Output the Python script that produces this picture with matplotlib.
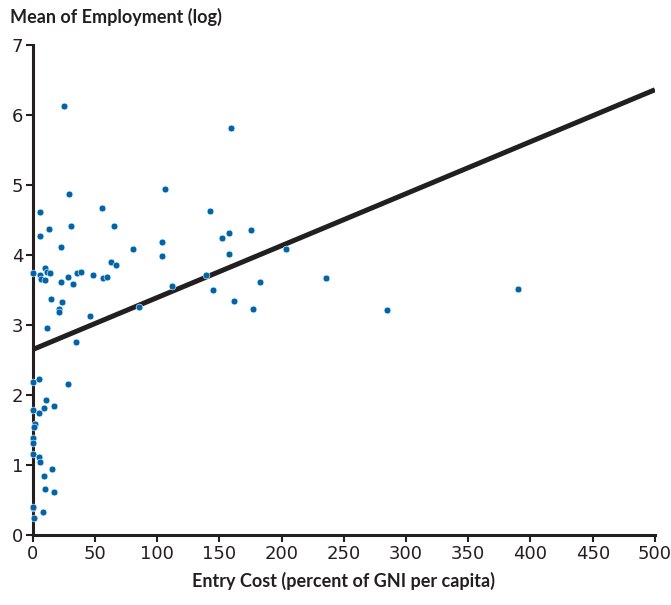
import matplotlib
matplotlib.use("Agg")
import matplotlib.pyplot as plt
import numpy as np

plt.rcParams['font.family'] = ['Lato', 'DejaVu Sans']

# entry cost (percent of GNI per capita) and mean employment (log)
entry_cost = [24.9, 159.4, 28.7, 106.4, 5.4, 55.5, 142.0, 5.4, 12.6, 30.3,
              65.6, 23.0, 80.6, 103.4, 103.7, 152.2, 157.6, 157.3, 175.6, 0.3,
              9.4, 11.5, 13.4, 5.9, 6.7, 9.4, 23.0, 28.4, 31.9, 35.1,
              38.8, 48.5, 56.5, 59.2, 63.0, 66.5, 139.3, 112.0, 145.0, 162.0,
              14.7, 23.6, 21.2, 20.6, 45.8, 85.5, 11.5, 203.1, 182.5, 236.0,
              176.8, 284.8, 389.9, 34.6, 0.3, 4.8, 28.1, 10.5, 0.0, 8.6,
              16.9, 4.6, 1.9, 1.1, 0.3, 0.0, 0.3, 5.1, 5.6, 15.5,
              8.6, 9.6, 16.9, 0.0, 0.3, 8.3, 0.5]
employment = [6.13, 5.81, 4.87, 4.94, 4.62, 4.67, 4.63, 4.27, 4.37, 4.41,
              4.41, 4.12, 4.08, 4.19, 3.99, 4.24, 4.31, 4.02, 4.35, 3.74,
              3.82, 3.76, 3.74, 3.71, 3.65, 3.64, 3.62, 3.68, 3.59, 3.74,
              3.76, 3.72, 3.67, 3.69, 3.90, 3.85, 3.72, 3.55, 3.50, 3.34,
              3.37, 3.33, 3.23, 3.19, 3.13, 3.25, 2.96, 4.09, 3.62, 3.67,
              3.23, 3.21, 3.51, 2.75, 2.19, 2.23, 2.16, 1.93, 1.79, 1.82,
              1.84, 1.74, 1.59, 1.54, 1.39, 1.32, 1.16, 1.12, 1.04, 0.94,
              0.84, 0.65, 0.62, 0.38, 0.40, 0.33, 0.24]

fit_x = [0, 500]
fit_y = [2.65, 6.36]

x_ticks = list(range(0, 501, 50))
y_ticks = list(range(0, 8))

fig = plt.figure(figsize=(6.71, 6.05), dpi=100)
ax = fig.add_axes([0.049, 0.1157, 0.927, 0.81])

ax.plot(fit_x, fit_y, color="#231f20", lw=3.6, solid_capstyle="butt", zorder=2)
ax.scatter(entry_cost, employment, s=24, color="#0065a8", edgecolors="white",
           linewidths=0.4, zorder=3, clip_on=False)

ax.set_xlim(0, 500)
ax.set_ylim(0, 7)
ax.set_xticks(x_ticks)
ax.set_yticks(y_ticks)

for side in ["top", "right"]:
    ax.spines[side].set_visible(False)
for side in ["left", "bottom"]:
    ax.spines[side].set_linewidth(2.2)
    ax.spines[side].set_color("#231f20")

ax.tick_params(axis="both", direction="out", length=5, width=1.5,
               color="#231f20", labelsize=13, labelcolor="#231f20", pad=2)
for lab in ax.get_xticklabels() + ax.get_yticklabels():
    lab.set_family(['Liberation Sans Narrow', 'DejaVu Sans'])

fig.text(0.015, 0.972, "Mean of Employment (log)", fontsize=13,
         fontweight="bold", color="#231f20", ha="left", va="center")
fig.text(0.512, 0.04, "Entry Cost (percent of GNI per capita)", fontsize=13,
         fontweight="bold", color="#231f20", ha="center", va="center")

fig.savefig("out.png", dpi=100)
